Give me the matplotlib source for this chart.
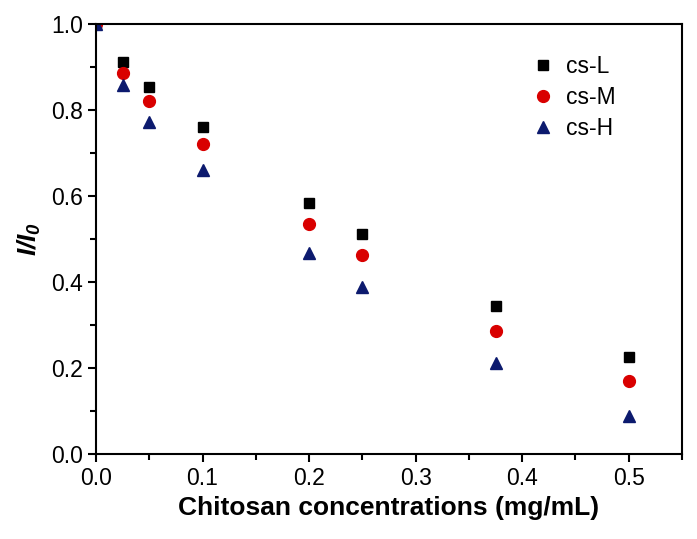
import matplotlib
matplotlib.use("Agg")
import matplotlib.pyplot as plt
from matplotlib.ticker import MultipleLocator

plt.rcParams['font.family'] = ['Liberation Sans', 'DejaVu Sans']
plt.rcParams['mathtext.fontset'] = 'custom'
plt.rcParams['mathtext.it'] = 'Liberation Sans:italic:bold'
plt.rcParams['mathtext.rm'] = 'Liberation Sans:italic:bold'

conc = [0.0, 0.025, 0.05, 0.1, 0.2, 0.25, 0.375, 0.5]
cs_L = [1.0, 0.912, 0.853, 0.761, 0.583, 0.512, 0.344, 0.225]
cs_M = [1.0, 0.885, 0.822, 0.722, 0.535, 0.463, 0.287, 0.170]
cs_H = [1.0, 0.858, 0.773, 0.660, 0.467, 0.389, 0.212, 0.088]

fig = plt.figure(figsize=(6.97, 5.39), dpi=100)
ax = fig.add_axes([0.1377, 0.1577, 0.8408, 0.7978])

ax.plot(conc, cs_L, 's', color='black', markersize=7, label='cs-L', linestyle='none')
ax.plot(conc, cs_M, 'o', color='#d90000', markersize=8.5, label='cs-M', linestyle='none')
ax.plot(conc, cs_H, '^', color='#0c1a6e', markersize=9, label='cs-H', linestyle='none')

ax.set_xlim(0, 0.55)
ax.set_ylim(0, 1.0)
ax.xaxis.set_major_locator(MultipleLocator(0.1))
ax.xaxis.set_minor_locator(MultipleLocator(0.05))
ax.yaxis.set_major_locator(MultipleLocator(0.2))
ax.yaxis.set_minor_locator(MultipleLocator(0.1))
ax.tick_params(which='major', direction='out', length=6, width=1.5, labelsize=16.5)
ax.tick_params(which='minor', direction='out', length=4, width=1.5)
for s in ax.spines.values():
    s.set_linewidth(1.5)

ax.set_xlabel('Chitosan concentrations (mg/mL)', fontsize=19, fontweight='bold', labelpad=4)
ax.set_ylabel(r'$I/I_0$', fontsize=19, labelpad=6)

ax.legend(loc='upper left', bbox_to_anchor=(0.70, 0.975), frameon=False, fontsize=16.5,
          handletextpad=0.3, labelspacing=0.35, handlelength=1.4)

fig.savefig('out.png', dpi=100)
